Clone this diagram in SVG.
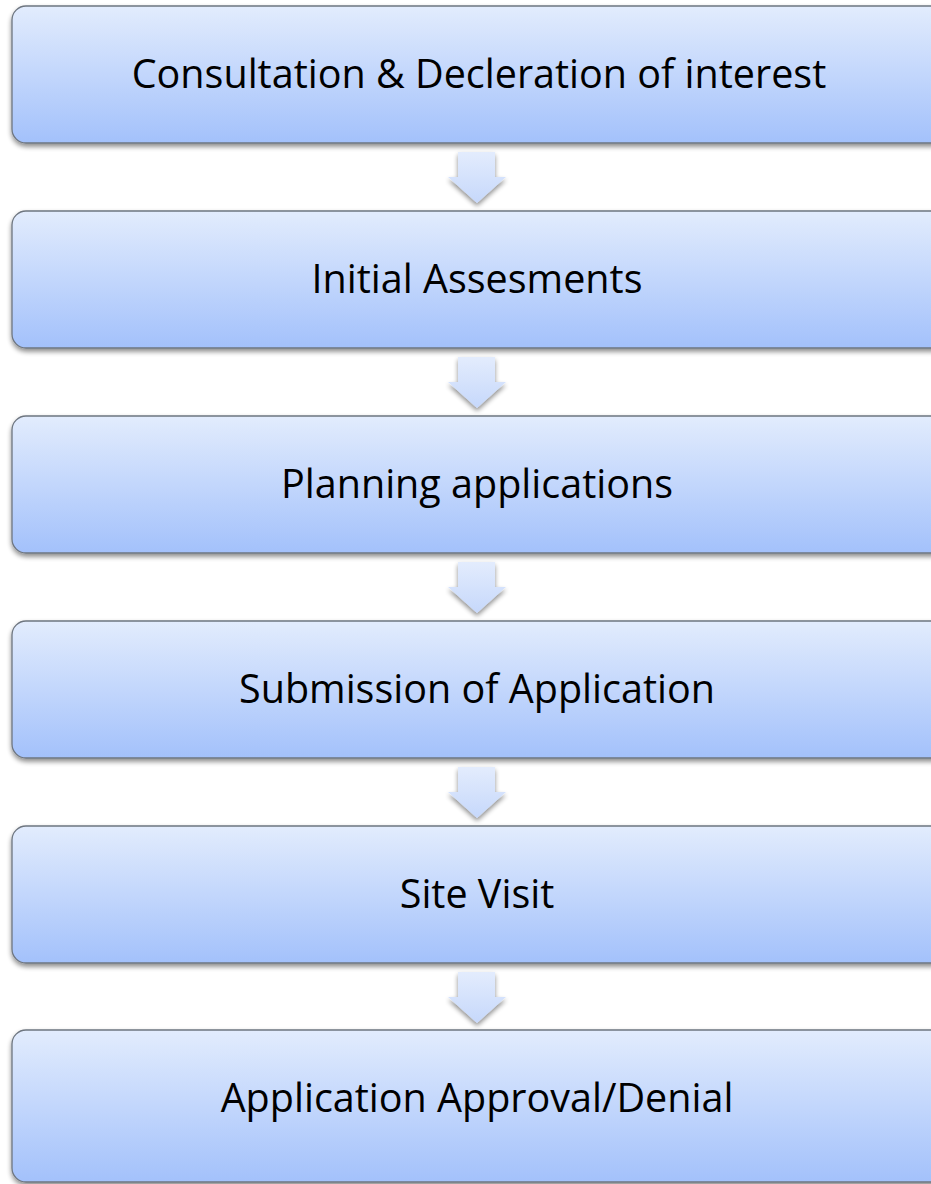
<svg xmlns="http://www.w3.org/2000/svg" width="931" height="1184" viewBox="0 0 931 1184">
<defs>
<linearGradient id="boxg" x1="0" y1="0" x2="0" y2="1">
<stop offset="0" stop-color="#e2ecfd"/>
<stop offset="1" stop-color="#a3c1fb"/>
</linearGradient>
<linearGradient id="arrg" x1="0" y1="0" x2="0" y2="1">
<stop offset="0" stop-color="#e3ecfd"/>
<stop offset="1" stop-color="#c6d8fb"/>
</linearGradient>
<filter id="sh" x="-5%" y="-10%" width="110%" height="130%">
<feGaussianBlur in="SourceAlpha" stdDeviation="2.5"/>
<feOffset dx="0" dy="3" result="b"/>
<feComponentTransfer><feFuncA type="linear" slope="0.45"/></feComponentTransfer>
<feMerge><feMergeNode/><feMergeNode in="SourceGraphic"/></feMerge>
</filter>
</defs>
<style>
.box{fill:url(#boxg);stroke:#6e7680;stroke-width:1.3;filter:url(#sh)}
.arr{fill:url(#arrg);filter:url(#sh)}
.lbl{font-family:"Open Sans",sans-serif;font-size:39.5px;fill:#000;text-anchor:middle}
</style>
<rect width="931" height="1184" fill="#fff"/>
<g id="connectors">
<path class="arr" d="M458,152 H495 V177 H506 L477,203 L448,177 H458 Z"/>
<path class="arr" d="M458,357 H495 V382 H506 L477,408 L448,382 H458 Z"/>
<path class="arr" d="M458,562 H495 V587 H506 L477,613 L448,587 H458 Z"/>
<path class="arr" d="M458,767 H495 V792 H506 L477,818 L448,792 H458 Z"/>
<path class="arr" d="M458,972 H495 V997 H506 L477,1023 L448,997 H458 Z"/>
</g>
<g id="n1"><rect class="box" x="12" y="6" width="940" height="137" rx="14"/><text class="lbl" x="479" y="88">Consultation &amp; Decleration of interest</text></g>
<g id="n2"><rect class="box" x="12" y="211" width="940" height="137" rx="14"/><text class="lbl" x="477" y="293">Initial Assesments</text></g>
<g id="n3"><rect class="box" x="12" y="416" width="940" height="137" rx="14"/><text class="lbl" x="477" y="498">Planning applications</text></g>
<g id="n4"><rect class="box" x="12" y="621" width="940" height="137" rx="14"/><text class="lbl" x="477" y="703">Submission of Application</text></g>
<g id="n5"><rect class="box" x="12" y="826" width="940" height="137" rx="14"/><text class="lbl" x="477" y="908">Site Visit</text></g>
<g id="n6"><rect class="box" x="12" y="1030" width="940" height="152" rx="14"/><text class="lbl" x="477" y="1112">Application Approval/Denial</text></g>
</svg>
